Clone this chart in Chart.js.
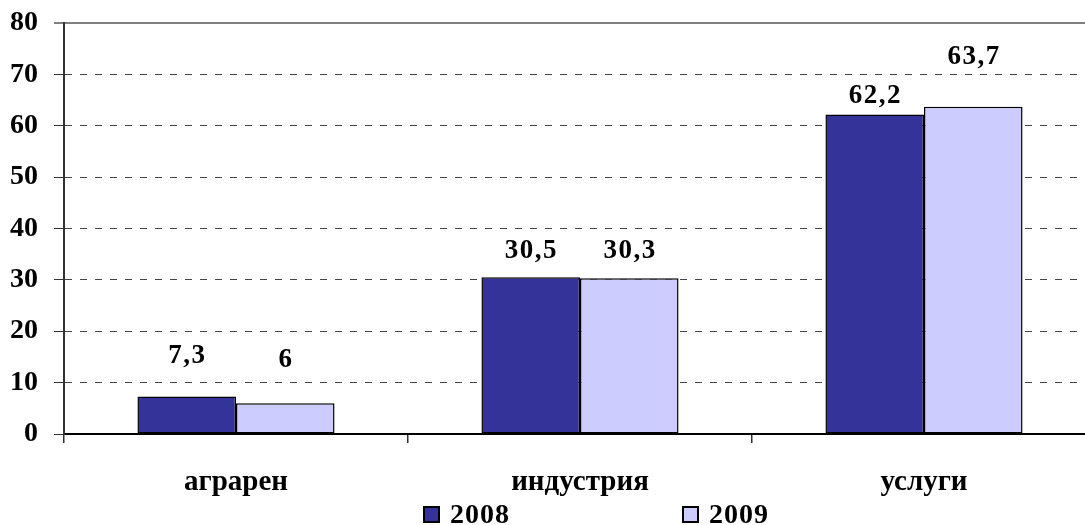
<!DOCTYPE html>
<html lang="bg">
<head>
<meta charset="utf-8">
<title>Заетост по сектори 2008–2009</title>
<script src="https://cdn.jsdelivr.net/npm/chart.js@4.4.1/dist/chart.umd.min.js"></script>
<style>
  html, body { margin: 0; padding: 0; background: #fff; overflow: hidden; }
  #wrap { position: relative; width: 1085px; height: 525px; overflow: hidden; }
  #chart { position: absolute; left: 0; top: 0; }
  #legend {
    position: absolute; left: 423px; top: 500px;
    display: flex; gap: 172px;
    font: bold 28px "Liberation Serif", "Times New Roman", serif;
    letter-spacing: 1px; line-height: 28px; color: #000;
  }
  #legend .item { display: flex; align-items: center; }
  #legend .box { width: 17px; height: 17px; box-sizing: border-box; border: 2px solid #000; margin-right: 10px; }
</style>
</head>
<body>
<div id="wrap">
  <canvas id="chart" width="1100" height="525"></canvas>
  <div id="legend"></div>
</div>
<script>
(() => {
  "use strict";

  const categories = ["аграрен", "индустрия", "услуги"];
  const seriesNames = ["2008", "2009"];
  const values2008 = [7.3, 30.5, 62.2];
  const values2009 = [6, 30.3, 63.7];
  const yTicks = [0, 10, 20, 30, 40, 50, 60, 70, 80];

  // how far above the bar top each value label sits (px), as placed in the original
  const lift2008 = [40, 26, 18];
  const lift2009 = [43, 27, 50];

  const serif = '"Liberation Serif", "Times New Roman", serif';
  const colors = ["#333399", "#ccccff"];
  const fmtValue = (v) => String(v).replace(".", ",");

  const valueLabels = {
    id: "valueLabels",
    afterDatasetsDraw(chart) {
      const { ctx } = chart;
      ctx.save();
      ctx.font = `bold 27px ${serif}`;
      ctx.letterSpacing = "1.5px";
      ctx.fillStyle = "#000";
      ctx.textAlign = "center";
      ctx.textBaseline = "middle";
      chart.data.datasets.forEach((ds, di) => {
        chart.getDatasetMeta(di).data.forEach((bar, i) => {
          ctx.fillText(fmtValue(ds.data[i]), bar.x + 0.75, bar.y - ds.lift[i]);
        });
      });
      ctx.restore();
    },
  };

  const isEdge = (c) => c.tick && (c.tick.value === 0 || c.tick.value === 80);

  const chart = new Chart(document.getElementById("chart"), {
    type: "bar",
    data: {
      labels: categories,
      datasets: [
        { label: seriesNames[0], data: values2008, backgroundColor: colors[0], lift: lift2008 },
        { label: seriesNames[1], data: values2009, backgroundColor: colors[1], lift: lift2009 },
      ],
    },
    options: {
      responsive: false,
      animation: false,
      layout: { padding: { top: 23, right: 4, bottom: 0, left: 0 } },
      datasets: {
        bar: {
          borderColor: "#000",
          borderWidth: 1.5,
          borderSkipped: false,
          categoryPercentage: 0.573,
          barPercentage: 1,
        },
      },
      plugins: { legend: { display: false }, tooltip: { enabled: false } },
      scales: {
        x: {
          grid: { drawOnChartArea: false, tickLength: 9, color: "#333", lineWidth: 1.5 },
          border: { color: "#000", width: 2 },
          ticks: { color: "#000", padding: 22, font: { family: serif, size: 29, weight: "bold" } },
          afterFit: (s) => { s.height = 91; },
        },
        y: {
          min: 0,
          max: 80,
          afterBuildTicks: (s) => { s.ticks = yTicks.map((v) => ({ value: v })); },
          grid: {
            color: (c) => (c.tick.value === 80 ? "#808080" : c.tick.value === 0 ? "rgba(0,0,0,0)" : "#444"),
            lineWidth: (c) => (c.tick.value === 80 ? 2 : 1),
            tickLength: 10,
            tickColor: (c) => (c.tick.value === 80 ? "#808080" : "#333"),
          },
          border: { color: "#333", width: 2, dash: (c) => (isEdge(c) ? [] : [7, 8]) },
          ticks: { color: "#000", padding: 16, font: { family: serif, size: 28, weight: "bold" } },
          // fixed axis width; label padding must not push the plot down
          afterFit: (s) => { s.width = 64; s.paddingTop = 0; s.paddingBottom = 0; },
        },
      },
    },
    plugins: [valueLabels],
  });

  // legend drawn as html so the wide gap between the two entries can be kept
  document.getElementById("legend").innerHTML = chart.data.datasets
    .map((ds) => `<div class="item"><span class="box" style="background:${ds.backgroundColor}"></span>${ds.label}</div>`)
    .join("");
})();
</script>
</body>
</html>
